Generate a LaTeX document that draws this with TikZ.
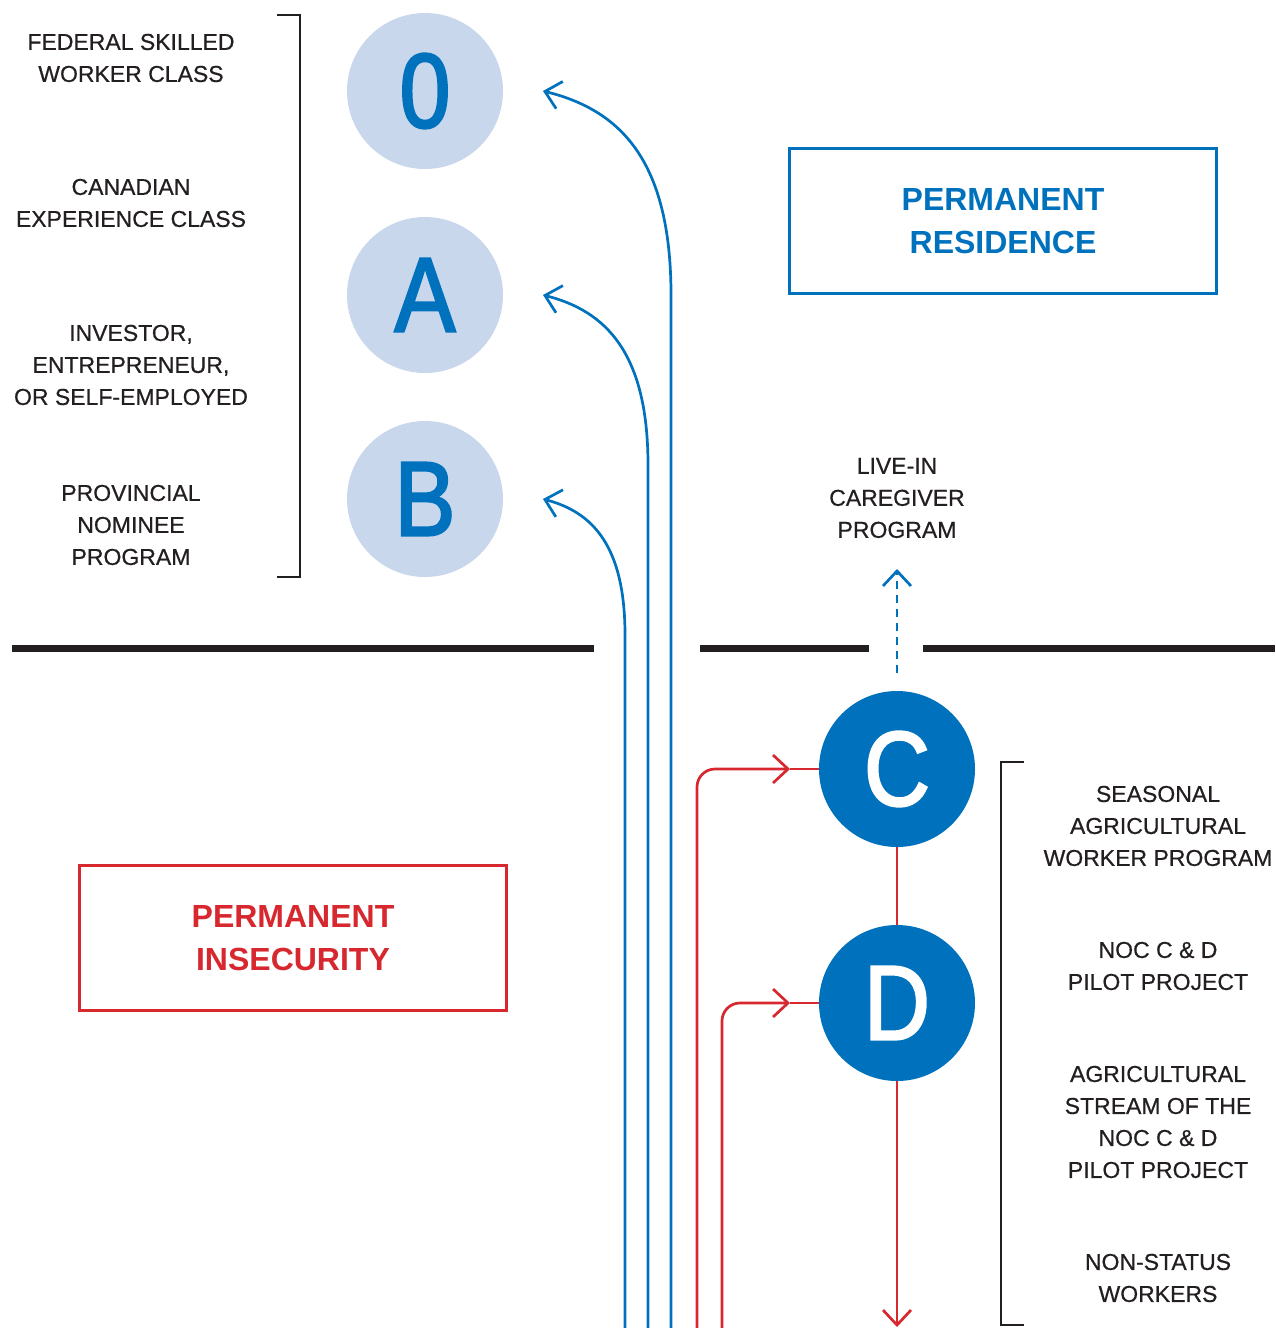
\documentclass[tikz,border=0pt]{standalone}
\usepackage{fontspec}
\setmainfont{Liberation Sans}
\newfontfamily\lblfont{Liberation Sans}[FakeBold=0.6]
\newfontfamily\bigfont{Liberation Sans}[FakeBold=2.2,FakeStretch=0.86]
\usetikzlibrary{arrows.meta}
\definecolor{pblue}{HTML}{0071BC}
\definecolor{plight}{HTML}{C9D7ED}
\definecolor{pred}{HTML}{D7282F}
\definecolor{pblack}{HTML}{231F20}
\begin{document}
\begin{tikzpicture}[x=1pt,y=-1pt,
  lbl/.style={align=center,inner sep=0pt,text=pblack,font=\lblfont\fontsize{23}{32}\selectfont},
  ttl/.style={align=center,inner sep=0pt,font=\bfseries\fontsize{32}{43}\selectfont},
  pcircle/.style={circle,inner sep=0pt,minimum size=156pt,font=\bigfont\fontsize{106}{106}\selectfont},
  lightcirc/.style={pcircle,fill=plight,text=pblue},
  darkcirc/.style={pcircle,fill=pblue,text=white},
  barbtip/.style={-{Straight Barb[length=15pt,width=28pt]}},
  bluepath/.style={draw=pblue,line width=2.7pt},
  redpath/.style={draw=pred,line width=2.7pt},
  brk/.style={draw=pblack,line width=2pt},
  divider/.style={draw=pblack,line width=7pt},
  framebox/.style={line width=3pt,minimum width=427pt,minimum height=145pt,inner sep=0pt}
]
\useasboundingbox (0,0) rectangle (1275,1328);

% dividers
\draw[divider] (12,648) -- (594,648);
\draw[divider] (700,648) -- (869,648);
\draw[divider] (923,648) -- (1275,648);

% left labels
\node[lbl] (fsw) at (131,58) {FEDERAL SKILLED\\WORKER CLASS};
\node[lbl] (cec) at (131,203) {CANADIAN\\EXPERIENCE CLASS};
\node[lbl] (ies) at (131,365) {INVESTOR,\\ENTREPRENEUR,\\OR SELF-EMPLOYED};
\node[lbl] (pnp) at (131,525) {PROVINCIAL\\NOMINEE\\PROGRAM};
\draw[brk] (277,15) -- (300,15) -- (300,577) -- (277,577);

% top circles
\node[lightcirc] (c0) at (425,91) {0};
\node[lightcirc] (cA) at (425,295) {A};
\node[lightcirc] (cB) at (425,499) {B};

% permanent residence box
\node[framebox,draw=pblue,text=pblue,ttl] (pr) at (1003,221) {PERMANENT\\RESIDENCE};

% live-in caregiver
\node[lbl] (lcp) at (897,498) {LIVE-IN\\CAREGIVER\\PROGRAM};
\coordinate (lctip) at (897,569);

% bottom circles
\node[darkcirc] (cC) at (897,769) {C};
\node[darkcirc] (cD) at (897,1003) {D};

% permanent insecurity box
\node[framebox,draw=pred,text=pred,ttl] (pi) at (293,938) {PERMANENT\\INSECURITY};

% right labels
\node[lbl] (sawp) at (1158,826) {SEASONAL\\AGRICULTURAL\\WORKER PROGRAM};
\node[lbl] (noc) at (1158,966) {NOC C \& D\\PILOT PROJECT};
\node[lbl] (ags) at (1158,1122) {AGRICULTURAL\\STREAM OF THE\\NOC C \& D\\PILOT PROJECT};
\node[lbl] (nsw) at (1158,1278) {NON-STATUS\\WORKERS};
\draw[brk] (1024,762) -- (1001,762) -- (1001,1325) -- (1024,1325);

% blue paths to top circles
\coordinate (b0s) at (671,1328);
\coordinate (bAs) at (648,1328);
\coordinate (bBs) at (625,1328);
\coordinate (t0) at (543,91);
\coordinate (tA) at (543,295);
\coordinate (tB) at (543,499);
\draw[bluepath,barbtip] (b0s) -- (671,295) .. controls (671,160) and (620,110) .. (t0);
\draw[bluepath,barbtip] (bAs) -- (648,465) .. controls (648,353) and (606,311) .. (tA);
\draw[bluepath,barbtip] (bBs) -- (625,635) .. controls (625,545) and (592,512) .. (tB);

% dashed arrow from C to live-in caregiver
\draw[bluepath,barbtip,dash pattern=on 8pt off 6pt,shorten <=18pt] (cC.north) -- (lctip);

% red paths
\coordinate (rCs) at (697,1328);
\coordinate (rDs) at (722,1328);
\coordinate (rCtip) at (790,769);
\coordinate (rDtip) at (790,1003);
\draw[redpath,barbtip,rounded corners=18pt] (rCs) -- (697,769) -- (rCtip);
\draw[redpath] (rCtip) -- (cC.west);
\draw[redpath,barbtip,rounded corners=18pt] (rDs) -- (722,1003) -- (rDtip);
\draw[redpath] (rDtip) -- (cD.west);
\draw[redpath] (cC.south) -- (cD.north);
\coordinate (rEnd) at (897,1327);
\draw[redpath,barbtip] (cD.south) -- (rEnd);
\end{tikzpicture}
\end{document}
